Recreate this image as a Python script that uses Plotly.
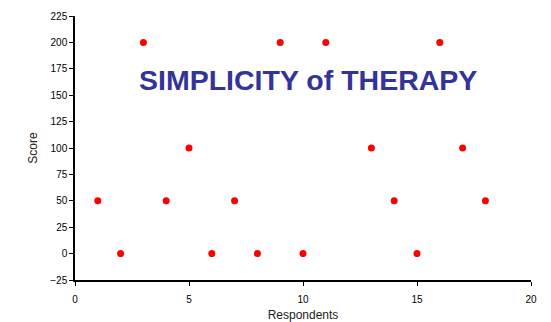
import plotly.graph_objects as go

respondents = [1, 2, 3, 4, 5, 6, 7, 8, 9, 10, 11, 13, 14, 15, 16, 17, 18]
scores = [50, 0, 200, 50, 100, 0, 50, 0, 200, 0, 200, 100, 50, 0, 200, 100, 50]
x_ticks = [0, 5, 10, 15, 20]
y_ticks = [-25, 0, 25, 50, 75, 100, 125, 150, 175, 200, 225]

fig = go.Figure()
fig.add_trace(go.Scatter(
    x=respondents, y=scores, mode="markers",
    marker=dict(color="#ff0000", size=7, line=dict(width=0)),
    showlegend=False,
))

axis_common = dict(
    showgrid=False, zeroline=False, showline=True, linecolor="black", linewidth=1.5,
    ticks="outside", ticklen=4, tickcolor="black", tickwidth=1, automargin=False,
    tickfont=dict(family="Arial, Liberation Sans", size=10, color="black"),
)
fig.update_xaxes(range=[0, 20], tickvals=x_ticks, ticklabelstandoff=5,
                 title=dict(text="Respondents", font=dict(family="Arial, Liberation Sans", size=12, color="#222"), standoff=14),
                 **axis_common)
fig.update_yaxes(range=[-25, 225], tickvals=y_ticks,
                 title=dict(text="Score", font=dict(family="Arial, Liberation Sans", size=12, color="#222"), standoff=10),
                 **axis_common)

fig.add_annotation(
    text="<b>SIMPLICITY of THERAPY</b>", x=0.51, y=0.757, xref="paper", yref="paper",
    showarrow=False, xanchor="center", yanchor="middle",
    font=dict(family="Arial, Liberation Sans", size=28.5, color="#333399"),
)

fig.update_layout(
    width=543, height=314,
    margin=dict(l=67, r=20, t=8, b=42),
    plot_bgcolor="white", paper_bgcolor="white",
)
fig.write_html("out.html")
